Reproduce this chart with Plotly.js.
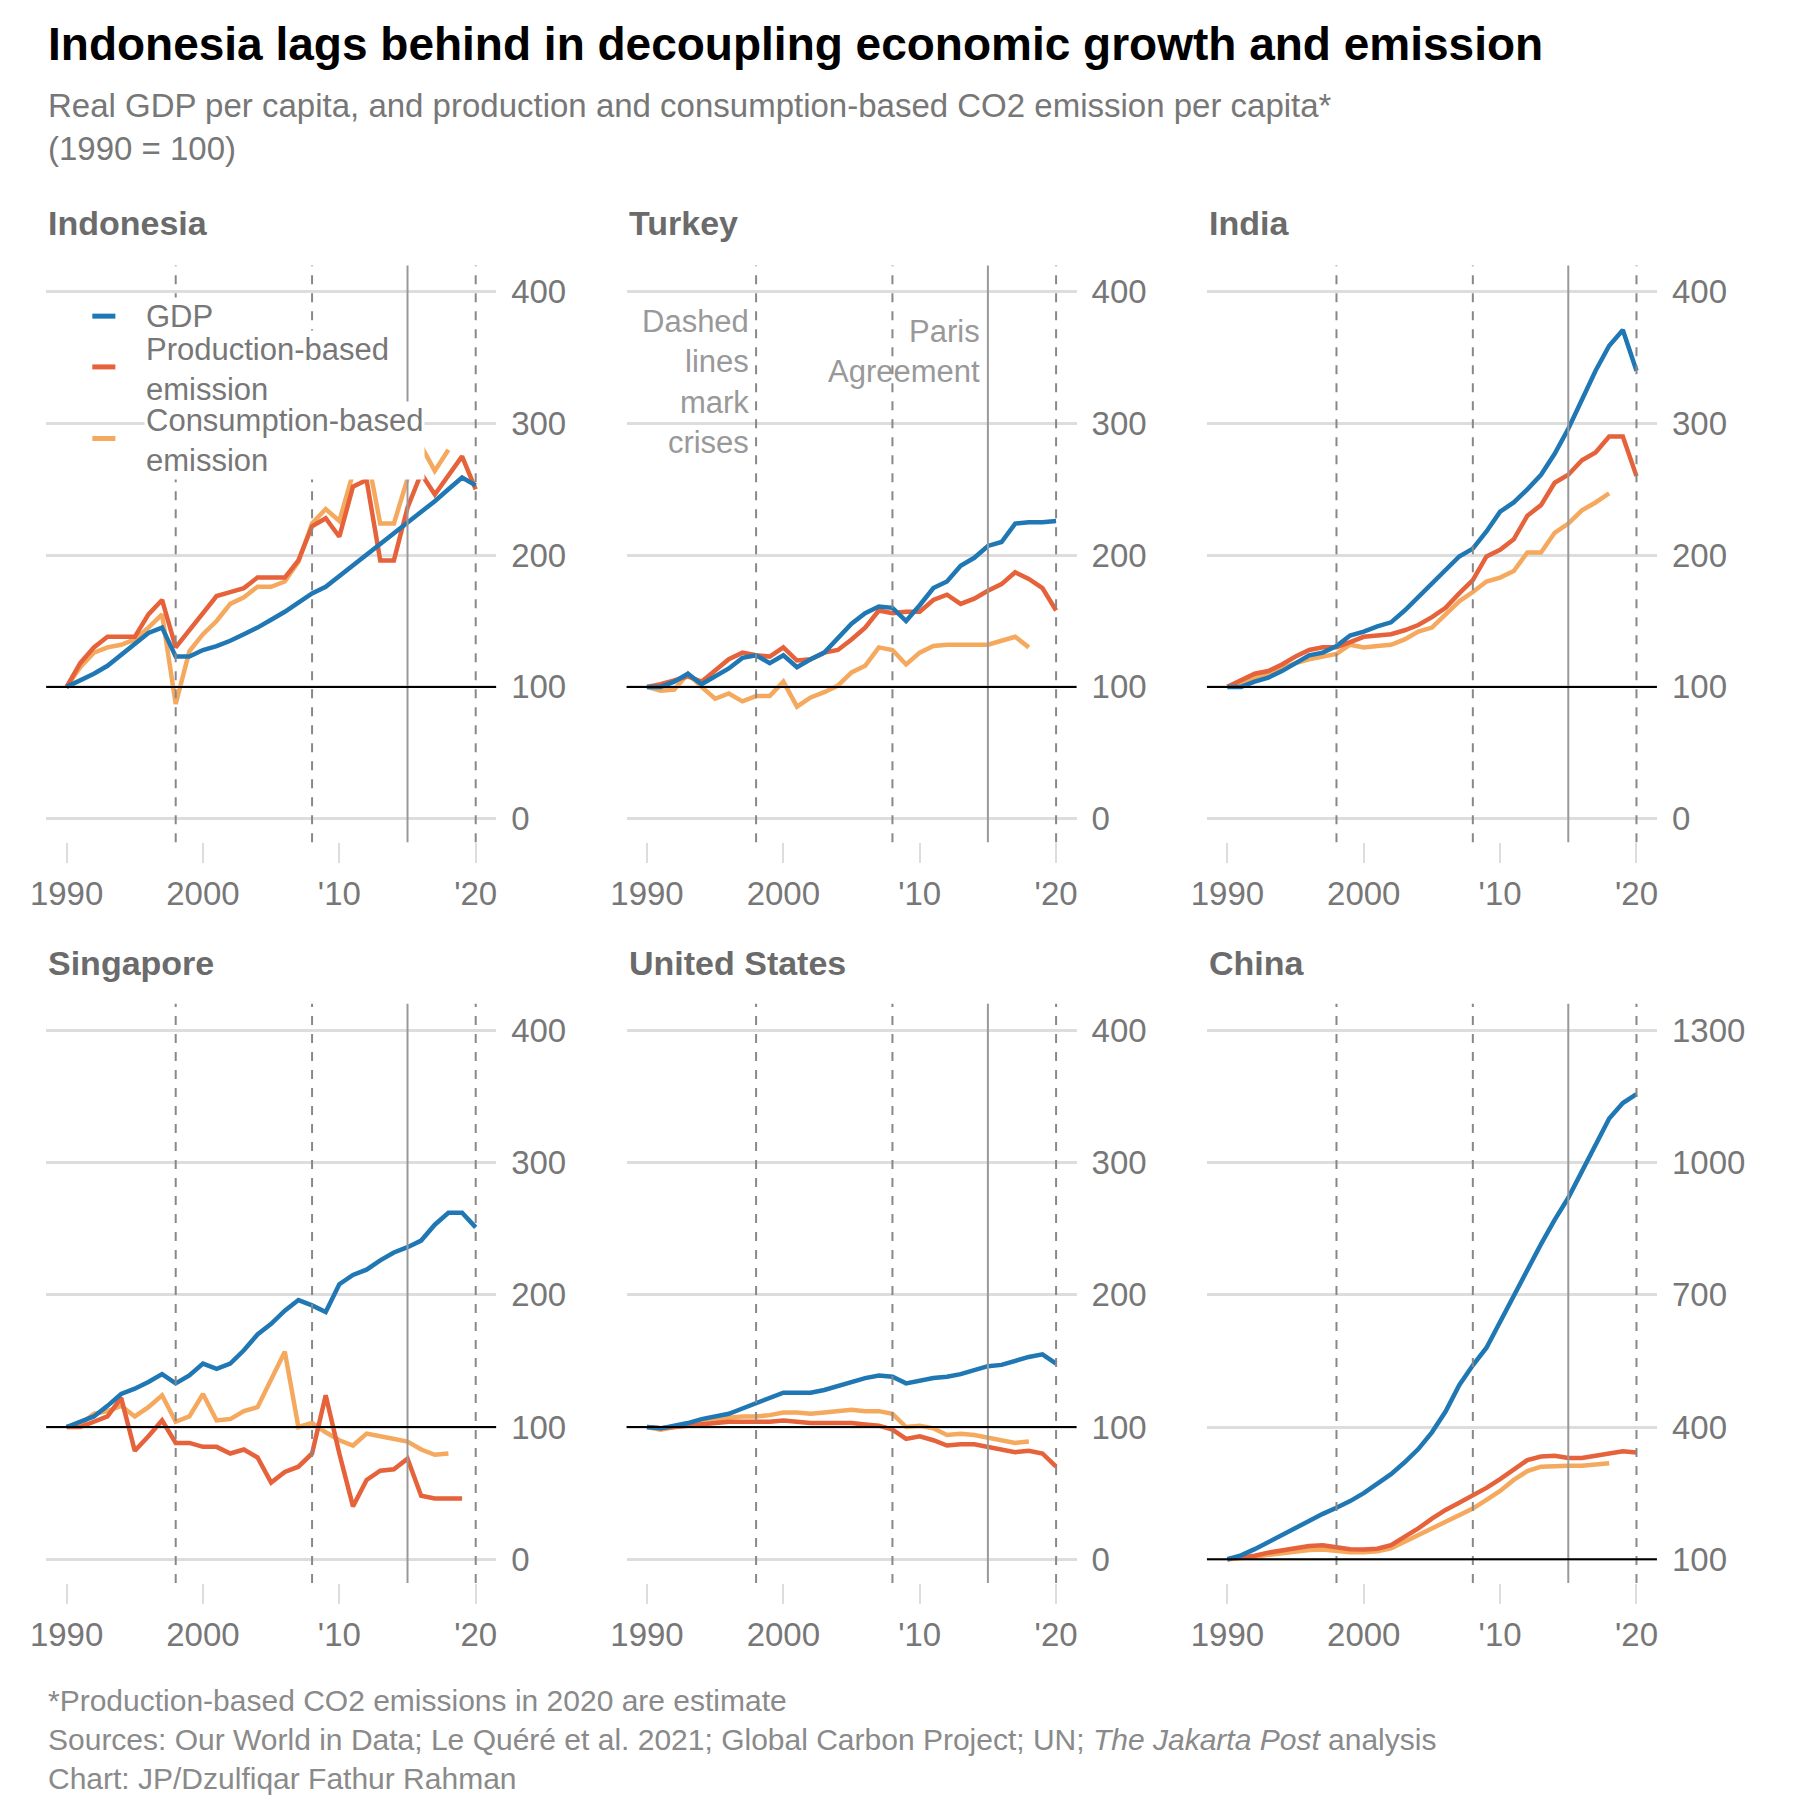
<!DOCTYPE html>
<html>
<head>
<meta charset="utf-8">
<script src="https://cdn.plot.ly/plotly-3.0.1.min.js"></script>
<style>body{margin:0;background:#fff}</style>
</head>
<body>
<div id="chart" style="width:1800px;height:1800px"></div>
<script>
var years = [];
for (var yr = 1990; yr <= 2020; yr++) years.push(yr);

var countries = ["Indonesia", "Turkey", "India", "Singapore", "United States", "China"];

var idnGdp = [100,105,110,116,124,133,141,145,123,123,128,131,135,140,145,151,157,164,171,176,184,192,200,208,216,224,232,241,250,259,253];
var idnProd = [100,118,130,138,138,138,155,166,130,143,155,169,172,175,183,183,183,196,222,228,214,252,257,196,196,236,262,246,261,275,250];
var idnCons = [100,115,126,130,132,136,145,155,87,127,140,150,163,168,176,176,180,195,224,235,226,262,278,224,224,258,283,264,280,null,null];

var turGdp = [100,100,104,110,102,108,114,122,124,118,124,115,121,126,137,148,156,161,160,150,162,175,180,192,198,207,210,224,225,225,226];
var turProd = [100,102,105,108,104,112,121,126,124,123,130,120,121,126,128,136,145,158,156,157,157,166,170,163,167,173,178,187,182,175,158];
var turCons = [100,97,98,110,100,91,95,89,93,93,104,85,92,96,101,111,116,130,128,117,126,131,132,132,132,132,135,138,130,null,null];

var indGdp = [100,100,104,107,112,118,124,126,131,139,142,146,149,158,168,178,188,199,205,218,233,240,250,261,277,296,318,340,359,371,340];
var indProd = [100,105,110,112,117,123,128,130,130,134,138,139,140,143,147,153,160,171,181,199,204,212,230,238,255,261,272,278,290,290,260];
var indCons = [100,103,107,110,114,118,121,123,125,132,130,131,132,136,142,145,155,165,172,180,183,188,202,202,217,224,234,240,247,null,null];

var sgpGdp = [100,104,108,116,125,129,134,140,133,139,148,144,148,158,170,178,188,196,192,187,208,215,219,226,232,236,241,253,262,262,251];
var sgpProd = [100,100,104,108,122,82,93,105,88,88,85,85,80,83,77,58,66,70,80,124,80,40,60,67,68,76,48,46,46,46,null];
var sgpCons = [100,102,110,112,116,108,115,124,104,108,125,105,106,112,115,136,157,100,103,96,90,86,95,93,91,89,83,79,80,null,null];

var usaGdp = [100,99,101,103,106,108,110,114,118,122,126,126,126,128,131,134,137,139,138,133,135,137,138,140,143,146,147,150,153,155,148];
var usaProd = [100,99,100,101,102,103,104,104,104,104,105,104,103,103,103,103,102,101,98,91,93,90,86,87,87,85,83,81,82,80,70];
var usaCons = [100,98,100,101,103,105,107,108,108,109,111,111,110,111,112,113,112,112,110,100,101,99,94,95,94,92,90,88,89,null,null];

var chnGdp = [100,109,123,139,156,171,187,203,217,232,250,270,293,320,350,388,435,495,540,580,640,700,760,815,870,920,980,1040,1100,1135,1155];
var chnProd = [100,103,108,115,120,125,130,132,128,123,122,124,132,150,170,192,212,228,245,262,282,305,325,333,335,330,330,335,340,345,342];
var chnCons = [100,102,105,110,114,118,121,122,119,116,116,118,125,140,155,170,185,198,215,235,255,280,300,310,312,312,312,315,318,null,null];

var seriesByCountry = [
  [idnGdp, idnProd, idnCons], [turGdp, turProd, turCons], [indGdp, indProd, indCons],
  [sgpGdp, sgpProd, sgpCons], [usaGdp, usaProd, usaCons], [chnGdp, chnProd, chnCons]
];
var seriesNames = ["GDP", "Production-based emission", "Consumption-based emission"];
var seriesColors = ["#1f77b4", "#e5623a", "#f4a95e"];
var drawOrder = [2, 1, 0];

var crisisYears = [1998, 2008, 2020];
var parisYear = 2015;
var xTickVals = [1990, 2000, 2010, 2020];
var xTickText = ["1990", "2000", "'10", "'20"];
var yTickVals = [0, 100, 200, 300, 400];
var chinaTickVals = [100, 400, 700, 1000, 1300];

// layout is measured on a 1560 px grid, scaled to 1800
var S = 1560;
var colX = [[40, 430], [543, 933], [1046, 1436]];
var rowY = [[230, 730], [870, 1372]];
var grey = "#777777";
var font = "'Liberation Sans', Arial, sans-serif";

var traces = [], shapes = [], annotations = [];
var layout = {
  width: 1800, height: 1800,
  margin: {l: 0, r: 0, t: 0, b: 0},
  paper_bgcolor: "#fff", plot_bgcolor: "#fff",
  showlegend: false,
  font: {family: font, color: grey}
};

countries.forEach(function (name, i) {
  var col = i % 3, row = Math.floor(i / 3);
  var n = i + 1, xa = "x" + (n === 1 ? "" : n), ya = "y" + (n === 1 ? "" : n);
  var isChina = name === "China";
  var base = 100;
  var yr = isChina ? [46, 1360] : [-18, 420];

  layout["xaxis" + (n === 1 ? "" : n)] = {
    domain: [colX[col][0] / S, colX[col][1] / S],
    anchor: ya, range: [1988.5, 2021.5],
    showgrid: false, zeroline: false, showline: false,
    tickvals: xTickVals, ticktext: xTickText,
    ticks: "outside", ticklen: 20, tickcolor: "#dddddd", tickwidth: 2,
    ticklabelstandoff: 2,
    tickfont: {size: 33, color: grey, family: font}, fixedrange: true
  };
  layout["yaxis" + (n === 1 ? "" : n)] = {
    domain: [1 - rowY[row][1] / S, 1 - rowY[row][0] / S],
    anchor: xa, side: "right", range: yr,
    tickvals: isChina ? chinaTickVals : yTickVals,
    showgrid: true, gridcolor: "#dddddd", gridwidth: 3,
    zeroline: false, showline: false, ticks: "",
    ticklabelstandoff: 14,
    tickfont: {size: 33, color: grey, family: font}, fixedrange: true
  };

  drawOrder.forEach(function (k) {
    traces.push({
      x: years, y: seriesByCountry[i][k], xaxis: xa, yaxis: ya,
      type: "scatter", mode: "lines", name: seriesNames[k],
      line: {color: seriesColors[k], width: 4.5}, connectgaps: false
    });
  });

  crisisYears.forEach(function (c) {
    shapes.push({type: "line", xref: xa, yref: ya + " domain", x0: c, x1: c, y0: 0, y1: 1,
      line: {color: "#888", width: 2, dash: "dash"}});
  });
  shapes.push({type: "line", xref: xa, yref: ya + " domain", x0: parisYear, x1: parisYear, y0: 0, y1: 1,
    line: {color: "#999", width: 2}});
  shapes.push({type: "line", xref: xa + " domain", yref: ya, x0: 0, x1: 1, y0: base, y1: base,
    line: {color: "#000", width: 2}});

  annotations.push({
    text: "<b>" + name + "</b>", xref: "paper", yref: "paper",
    x: colX[col][0] / S, y: 1 - (row === 0 ? 193 : 835) / S,
    xanchor: "left", yanchor: "middle", showarrow: false,
    font: {size: 34, color: "#6b6b6b", family: font}
  });
});

// legend inside the Indonesia panel
var legendRows = [
  {text: "GDP", y: 274, mark: 274},
  {text: "Production-based<br>emission", y: 320, mark: 318},
  {text: "Consumption-based<br>emission", y: 382, mark: 380}
];
legendRows.forEach(function (r, k) {
  shapes.push({type: "line", xref: "paper", yref: "paper",
    x0: 80 / S, x1: 100 / S, y0: 1 - r.mark / S, y1: 1 - r.mark / S,
    line: {color: seriesColors[k], width: 5}});
  annotations.push({text: r.text, xref: "paper", yref: "paper", x: 125 / S, y: 1 - r.y / S,
    xanchor: "left", yanchor: "middle", align: "left", showarrow: false, bgcolor: "#fff",
    font: {size: 31, color: grey, family: font}});
});

annotations.push({text: "Dashed<br>lines<br>mark<br>crises", xref: "x2", yref: "paper",
  x: 1997.6, y: 1 - 262 / S, xanchor: "right", yanchor: "top", align: "right", showarrow: false,
  font: {size: 31, color: "#999", family: font}});
annotations.push({text: "Paris<br>Agreement", xref: "x2", yref: "paper",
  x: 2014.6, y: 1 - 270 / S, xanchor: "right", yanchor: "top", align: "right", showarrow: false,
  font: {size: 31, color: "#999", family: font}});

// titles and notes
annotations.push({text: "<b>Indonesia lags behind in decoupling economic growth and emission</b>",
  xref: "paper", yref: "paper", x: 40 / S, y: 1 - 38 / S, xanchor: "left", yanchor: "middle",
  showarrow: false, font: {size: 46, color: "#000", family: font}});
annotations.push({text: "Real GDP per capita, and production and consumption-based CO2 emission per capita*<br>(1990 = 100)",
  xref: "paper", yref: "paper", x: 40 / S, y: 1 - 74 / S, xanchor: "left", yanchor: "top", align: "left",
  showarrow: false, font: {size: 33, color: grey, family: font}});
annotations.push({text: "*Production-based CO2 emissions in 2020 are estimate<br>Sources: Our World in Data; Le Quéré et al. 2021; Global Carbon Project; UN; <i>The Jakarta Post</i> analysis<br>Chart: JP/Dzulfiqar Fathur Rahman",
  xref: "paper", yref: "paper", x: 40 / S, y: 1 - 1458 / S, xanchor: "left", yanchor: "top", align: "left",
  showarrow: false, font: {size: 30, color: "#8a8a8a", family: font}});

layout.shapes = shapes;
layout.annotations = annotations;

Plotly.newPlot("chart", traces, layout, {displayModeBar: false, staticPlot: true});
</script>
</body>
</html>
